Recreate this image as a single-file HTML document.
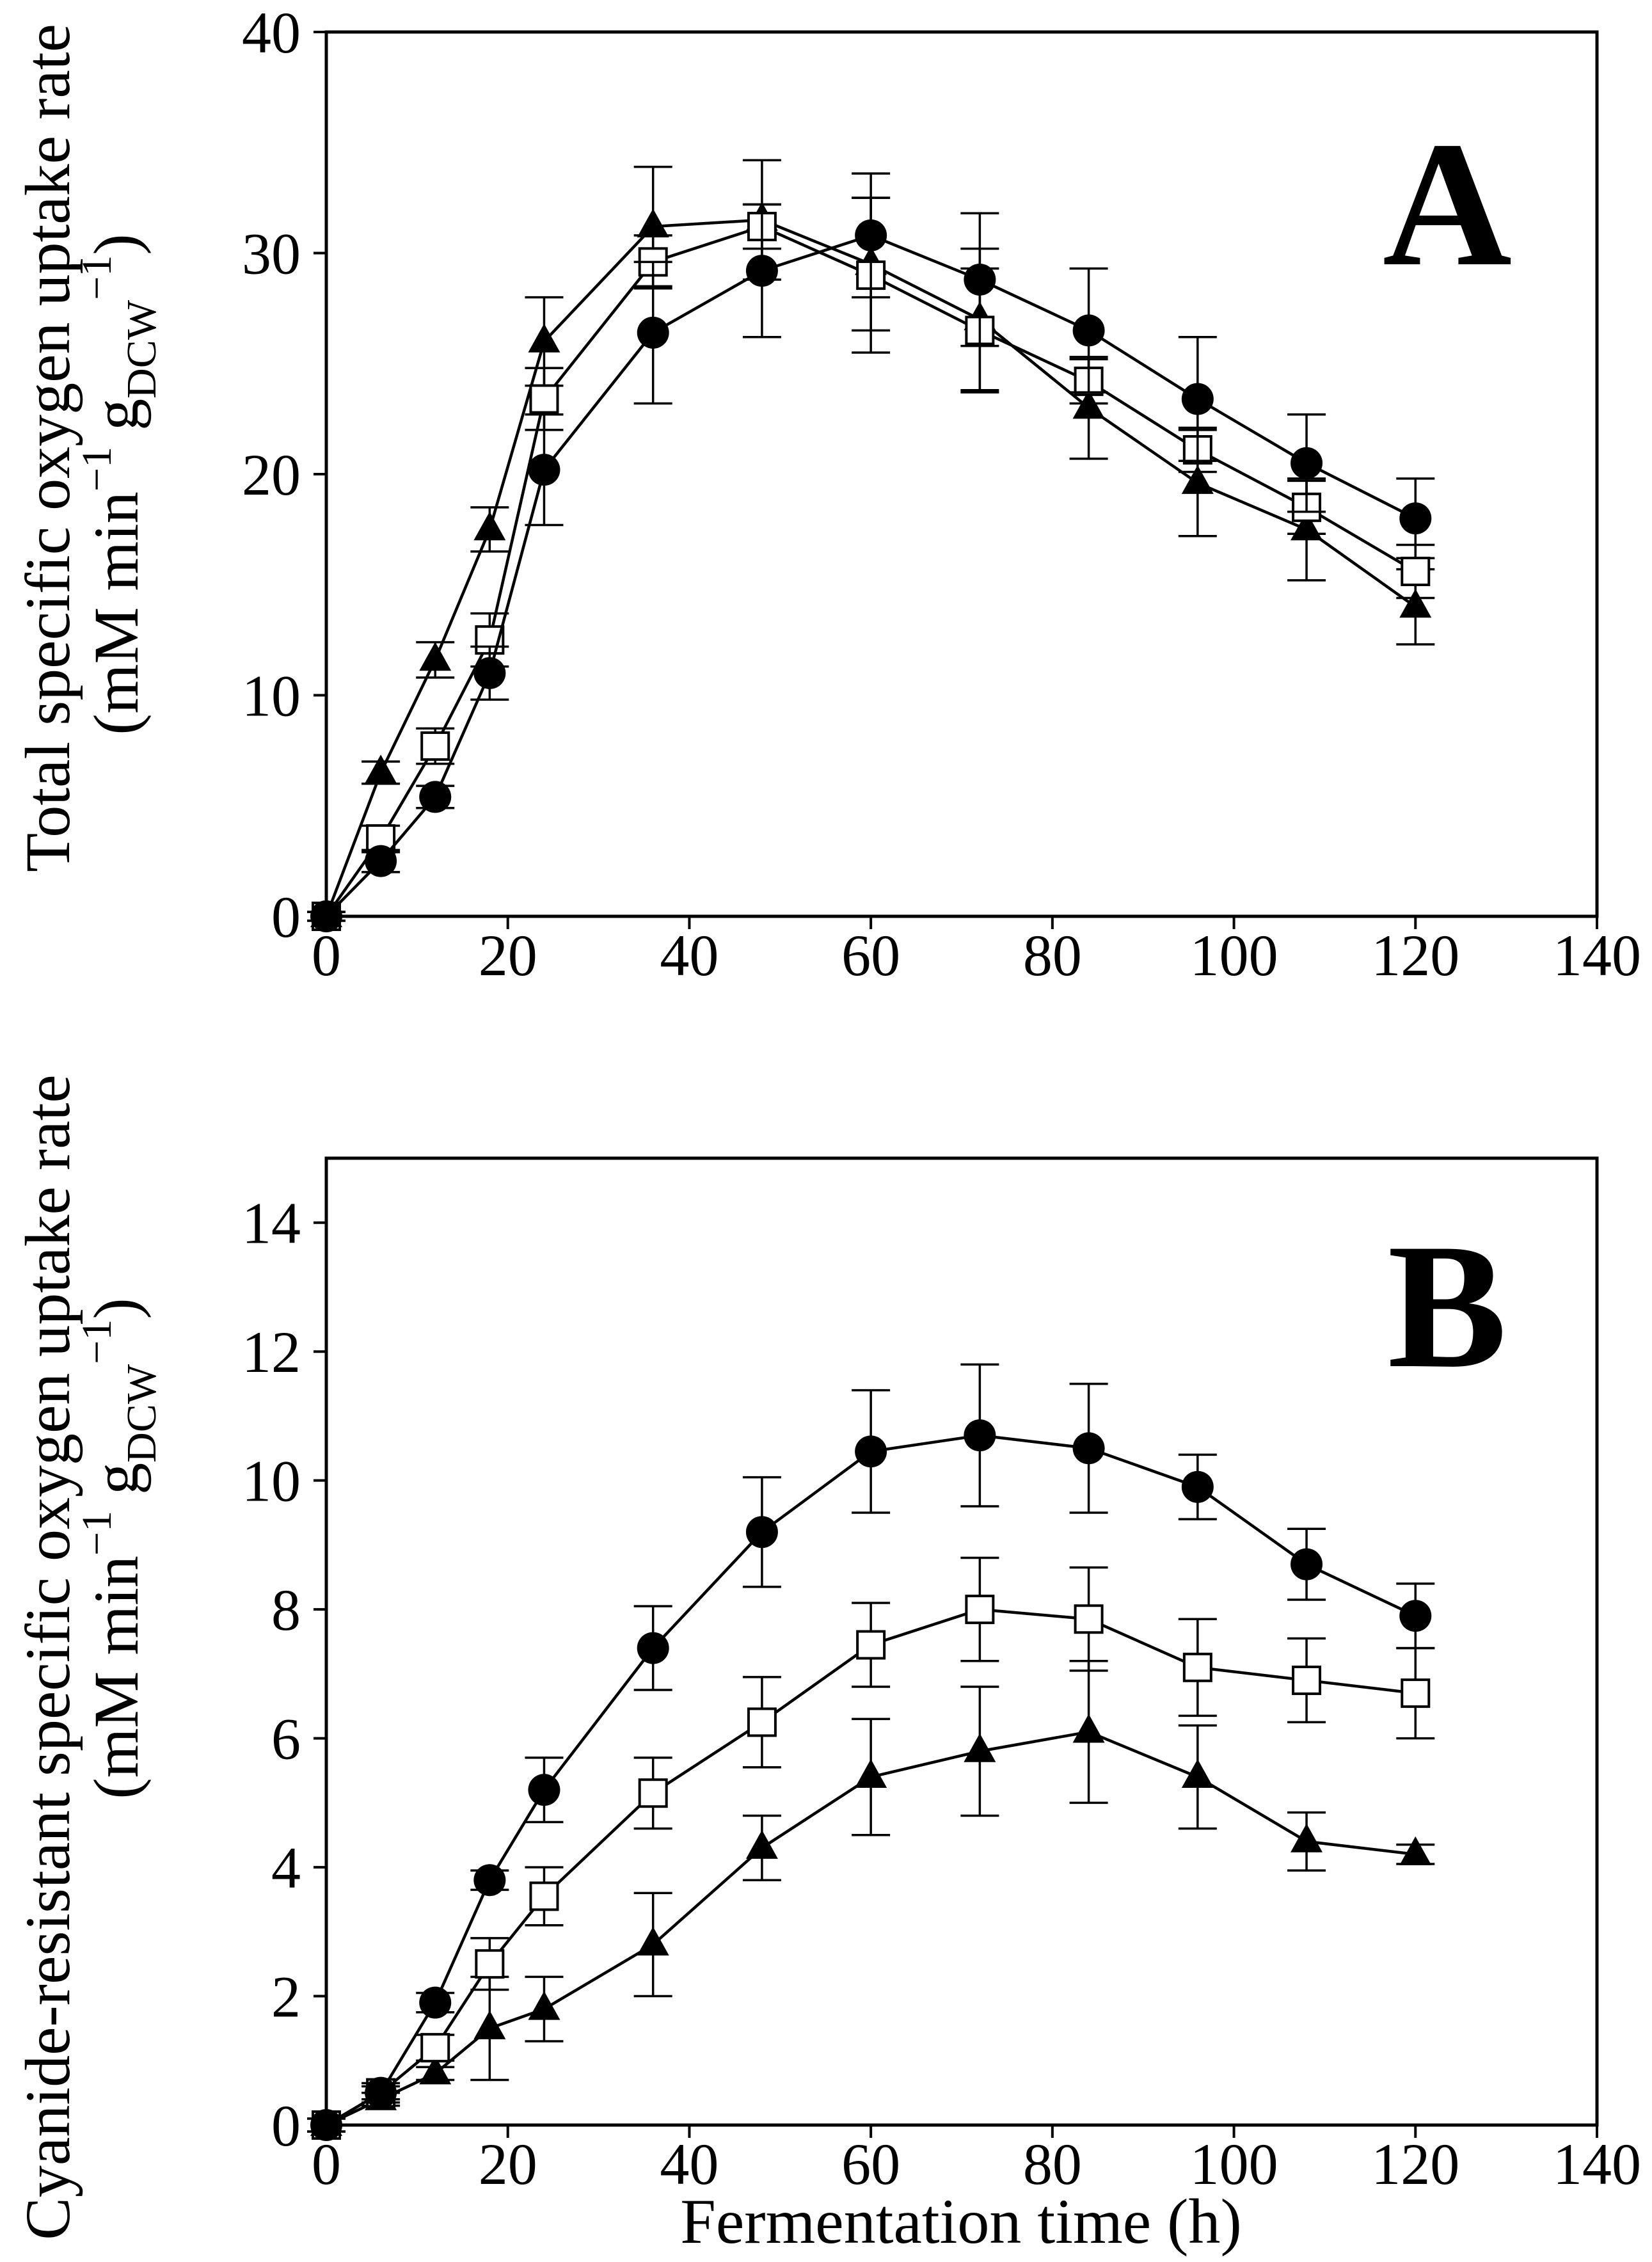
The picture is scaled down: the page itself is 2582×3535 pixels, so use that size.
<!DOCTYPE html>
<html><head><meta charset="utf-8"><style>
html,body{margin:0;padding:0;background:#fff}
svg{display:block}
text{font-family:"Liberation Serif",serif;fill:#000}
</style></head><body>
<svg id="chart" width="2582" height="3535" viewBox="0 0 2582 3535" xmlns="http://www.w3.org/2000/svg"></svg>
<script>
const xTicks=[0,20,40,60,80,100,120,140];
const times=[0,6,12,18,24,36,48,60,72,84,96,108,120];
const aTicks=[0,10,20,30,40];
const aCircle=[0,2.5,5.4,11,20.2,26.4,29.2,30.8,28.8,26.5,23.4,20.5,18];
const aCircleErr=[0.2,0.5,0.5,1.2,2.5,3.2,3,2.8,3,2.8,2.8,2.2,1.8];
const aSquare=[0,3.5,7.7,12.5,23.4,29.6,31.2,29,26.5,24.2,21.1,18.5,15.6];
const aSquareErr=[0.2,0.6,0.8,1.2,1.4,1.2,1,3.5,2.8,1,1,1.2,1.2];
const aTri=[0,6.5,11.6,17.5,26,31.2,31.5,29.5,27,23,19.6,17.5,14];
const aTriErr=[0.2,0.5,0.8,1,2,2.7,2.7,3,3.2,2.3,2.4,2.3,1.7];
const bTicks=[0,2,4,6,8,10,12,14];
const bCircle=[0,0.5,1.9,3.8,5.2,7.4,9.2,10.45,10.7,10.5,9.9,8.7,7.9];
const bCircleErr=[0.1,0.15,0.15,0.15,0.5,0.65,0.85,0.95,1.1,1,0.5,0.55,0.5];
const bSquare=[0,0.5,1.2,2.5,3.55,5.15,6.25,7.45,8.0,7.85,7.1,6.9,6.7];
const bSquareErr=[0.1,0.1,0.2,0.4,0.45,0.55,0.7,0.65,0.8,0.8,0.75,0.65,0.7];
const bTri=[0,0.4,0.8,1.5,1.8,2.8,4.3,5.4,5.8,6.1,5.4,4.4,4.2];
const bTriErr=[0.1,0.1,0.1,0.8,0.5,0.8,0.5,0.9,1,1.1,0.8,0.45,0.15];

const NS='http://www.w3.org/2000/svg';
const svg=document.getElementById('chart');
function mk(tag,attrs,parent){const e=document.createElementNS(NS,tag);for(const k in attrs)e.setAttribute(k,attrs[k]);(parent||svg).appendChild(e);return e;}

function panel(p){
  const g=mk('g',{});
  
  
  const X=v=>p.left+(v-0)/(140)*(p.right-p.left);
  const Y=v=>p.bottom-v/p.ymax*(p.bottom-p.top);
  const frame=mk('rect',{x:p.left,y:p.top,width:p.right-p.left,height:p.bottom-p.top,fill:'none',stroke:'#000','stroke-width':5},g);
  
  
  xTicks.forEach(t=>{
    mk('line',{x1:X(t),x2:X(t),y1:p.bottom,y2:p.bottom+20,stroke:'#000','stroke-width':4},g);
    const tx=mk('text',{x:X(t),y:p.bottom+92,'font-size':92,'text-anchor':'middle'},g);
    tx.textContent=t;
    
    
  });
  p.yTicks.forEach(t=>{
    mk('line',{x1:p.left-20,x2:p.left,y1:Y(t),y2:Y(t),stroke:'#000','stroke-width':4},g);
    const tx=mk('text',{x:p.left-40,y:Y(t)+32,'font-size':92,'text-anchor':'end'},g);
    tx.textContent=t;
    
    
  });
  const series=[[p.tri,p.triErr,'triangle'],[p.sq,p.sqErr,'square'],[p.ci,p.ciErr,'circle']];
  series.forEach(([vals,errs,kind])=>{
    const sg=mk('g',{},g);
    
    
    vals.forEach((v,i)=>{
      const x=X(times[i]);
      const e=mk('path',{d:`M${x},${Y(v+errs[i])}V${Y(v-errs[i])}M${x-30},${Y(v+errs[i])}h60M${x-30},${Y(v-errs[i])}h60`,stroke:'#000','stroke-width':3.5,fill:'none'},sg);
      
      
    });
    const ln=mk('polyline',{points:vals.map((v,i)=>X(times[i])+','+Y(v)).join(' '),fill:'none',stroke:'#000','stroke-width':4.5},sg);
    
    
    vals.forEach((v,i)=>{
      const x=X(times[i]),y=Y(v);let m;
      if(kind==='circle')m=mk('circle',{cx:x,cy:y,r:25,fill:'#000'},sg);
      else if(kind==='square')m=mk('rect',{x:x-21,y:y-21,width:42,height:42,fill:'#fff',stroke:'#000','stroke-width':4},sg);
      else m=mk('path',{d:`M${x},${y-28}L${x+25},${y+17}L${x-25},${y+17}Z`,fill:'#000'},sg);
      
      
    });
  });
  const L=mk('text',{x:p.lx,y:p.ly,'font-size':280,'font-weight':'bold','text-anchor':'middle'},g);
  L.textContent=p.letter;
  
  
  const t1=mk('text',{transform:`translate(${p.tx1},${p.tcy}) rotate(-90)`,'font-size':100,'text-anchor':'middle'},g);
  t1.textContent=p.title;
  
  
  const t2=mk('text',{transform:`translate(${p.tx2},${p.tcy2}) rotate(-90)`,'font-size':100,'text-anchor':'middle'},g);
  t2.innerHTML='(mM min<tspan dy="-42" font-size="66">−1</tspan><tspan dy="42"> g</tspan><tspan dy="28" font-size="66">DCW</tspan><tspan dy="-70" font-size="66">−1</tspan><tspan dy="42">)</tspan>';
  
  
}
panel({letter:'A',left:510,right:2496,top:50,bottom:1432,ymax:40,yTicks:aTicks,
  ci:aCircle,ciErr:aCircleErr,sq:aSquare,sqErr:aSquareErr,tri:aTri,triErr:aTriErr,
  lx:2262,ly:413,title:'Total specific oxygen uptake rate',tx1:108,tcy:700,tx2:215,tcy2:757});
panel({letter:'B',left:510,right:2496,top:1810,bottom:3321,ymax:15,yTicks:bTicks,
  ci:bCircle,ciErr:bCircleErr,sq:bSquare,sqErr:bSquareErr,tri:bTri,triErr:bTriErr,
  lx:2262,ly:2135,title:'Cyanide-resistant specific oxygen uptake rate',tx1:108,tcy:2590,tx2:215,tcy2:2420});
const xl=mk('text',{x:1502,y:3505,'font-size':100,'text-anchor':'middle'});
xl.textContent='Fermentation time (h)';


</script>
</body></html>
